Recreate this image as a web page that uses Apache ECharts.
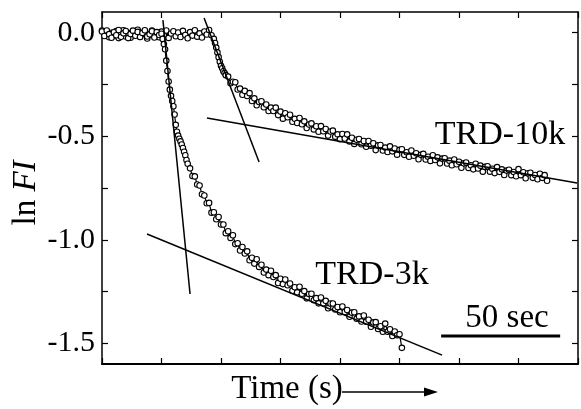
<!DOCTYPE html>
<html>
<head>
<meta charset="utf-8">
<script src="https://cdn.jsdelivr.net/npm/echarts@6/dist/echarts.min.js"></script>
<style>html,body{margin:0;padding:0;background:#fff}#c{width:581px;height:409px}</style>
</head>
<body>
<div id="c"></div>
<script>
// ---- data (time in s, value = ln FI) ----
const t10k = [0,1,2,3,4,5,6,7,8,9,10,11,12,13,14,15,16,17,18,19,20,21,22,23,24,25,26,27,28,29,30,31,32,33,34,35,36,37,38,39,40,41,42,43,44,45,46,
  47,47.5,48,48.5,49,49.5,50,50.5,51,51.5,52,
  53,54,55,56,57,58,59,60,61,62,63,64,65,66,67,68,69,70,71,72,73,74,75,76,77,78,79,80,81,82,83,84,85,86,87,88,89,90,
  91,92,93,94,95,96,97,98,99,100,101,102,103,104,105,106,107,108,109,110,111,112,113,114,115,116,117,118,119,120,
  121,122,123,124,125,126,127,128,129,130,131,132,133,134,135,136,137,138,139,140,141,142,143,144,145,146,147,148,149,150,
  151,152,153,154,155,156,157,158,159,160,161,162,163,164,165,166,167,168,169,170,171,172,173,174,175,176,177,178,179,180,
  181,182,183,184,185,186,187];
const v10k = [0.010,-0.012,0.004,-0.022,0.000,-0.015,0.008,-0.026,-0.004,0.012,
  -0.018,-0.002,-0.024,0.006,-0.010,0.014,-0.020,-0.006,0.002,-0.028,
  -0.008,0.010,-0.016,-0.001,-0.022,0.005,-0.013,0.011,-0.025,-0.004,
  0.007,-0.017,0.001,-0.021,0.009,-0.011,-0.027,0.003,-0.014,0.012,
  -0.019,-0.003,-0.023,0.006,-0.009,0.013,-0.012,
  -0.030,-0.050,-0.072,-0.095,-0.118,-0.140,-0.160,-0.172,-0.186,-0.195,-0.205,
  -0.212,-0.244,-0.237,-0.239,-0.274,-0.270,-0.300,-0.281,-0.306,-0.292,-0.330,-0.317,-0.350,-0.335,-0.331,-0.360,-0.347,-0.378,
  -0.362,-0.378,-0.362,-0.398,-0.381,-0.415,-0.389,-0.408,-0.396,-0.430,-0.416,-0.436,-0.412,-0.442,-0.428,-0.460,-0.443,-0.438,-0.467,-0.452,
  -0.478,-0.451,-0.476,-0.465,-0.497,-0.477,-0.473,-0.502,-0.491,-0.514,-0.489,-0.511,-0.491,-0.525,-0.507,-0.537,-0.517,-0.513,-0.539,-0.523,
  -0.551,-0.523,-0.546,-0.534,-0.567,-0.544,-0.542,-0.569,-0.555,-0.576,
  -0.549,-0.573,-0.559,-0.589,-0.566,-0.563,-0.590,-0.577,-0.599,-0.569,-0.594,-0.582,-0.611,-0.590,-0.585,-0.612,-0.599,-0.619,-0.592,-0.615,
  -0.602,-0.631,-0.608,-0.606,-0.632,-0.618,-0.640,-0.612,-0.635,-0.623,
  -0.652,-0.631,-0.627,-0.653,-0.640,-0.660,-0.633,-0.656,-0.642,-0.671,-0.648,-0.645,-0.671,-0.657,-0.678,-0.649,-0.672,-0.660,-0.687,-0.666,
  -0.662,-0.688,-0.673,-0.693,-0.659,-0.688,-0.674,-0.703,-0.679,-0.676,
  -0.701,-0.687,-0.708,-0.681,-0.701,-0.688,-0.715];

const t3k = [0,1,2,3,4,5,6,7,8,9,10,11,12,13,14,15,16,17,18,19,20,21,22,23,24,25,
  25.5,26,26.5,27,27.5,28,28.5,29,29.5,30,30.5,31,31.5,32,32.5,33,33.5,34,34.5,35,35.5,36,
  37,38,39,40,41,42,43,44,45,46,47,48,49,50,51,52,53,54,55,56,57,58,59,60,61,62,63,64,65,66,67,68,69,70,
  71,72,73,74,75,76,77,78,79,80,81,82,83,84,85,86,87,88,89,90,91,92,93,94,95,96,97,98,99,100,
  101,102,103,104,105,106,107,108,109,110,111,112,113,114,115,116,117,118,119,120,121,122,123,124,125,126];
const v3k = [0.006,-0.016,0.011,-0.007,-0.024,0.002,-0.012,0.013,-0.020,-0.003,
  0.008,-0.026,-0.006,0.010,-0.015,0.004,-0.021,-0.001,0.012,-0.018,
  -0.008,0.007,-0.023,0.003,-0.011,-0.005,
  -0.030,-0.055,-0.080,-0.135,-0.185,-0.236,-0.275,-0.305,-0.330,-0.355,-0.395,-0.445,-0.478,-0.497,-0.512,-0.525,-0.540,-0.557,-0.575,-0.592,-0.615,-0.633,
  -0.655,-0.692,-0.694,-0.733,-0.738,-0.780,-0.786,-0.824,-0.822,-0.869,-0.867,-0.901,-0.890,-0.926,-0.926,-0.968,-0.959,-0.991,-0.978,-1.021,
  -1.017,-1.052,-1.035,-1.066,-1.056,-1.099,-1.087,-1.115,-1.094,-1.131,-1.121,-1.158,-1.144,-1.171,
  -1.150,-1.180,-1.171,-1.209,-1.188,-1.214,-1.192,-1.220,-1.211,-1.246,-1.229,-1.254,-1.227,-1.261,-1.248,-1.283,-1.262,-1.261,-1.292,-1.282,
  -1.307,-1.279,-1.307,-1.295,-1.331,-1.308,-1.308,-1.337,-1.325,-1.350,
  -1.322,-1.349,-1.339,-1.372,-1.352,-1.350,-1.381,-1.370,-1.395,-1.366,-1.396,-1.386,-1.420,-1.399,-1.398,-1.431,-1.418,-1.444,-1.405,-1.444,
  -1.432,-1.465,-1.443,-1.461,-1.456,-1.522];

// tangent (asymptote) lines: [t, value] end points
const steep10k = [[42.9, 0.071], [66.0, -0.624]];
const slow10k  = [[44.1, -0.412], [199.6, -0.726]];
const steep3k  = [[25.6, 0.061], [37.0, -1.262]];
const slow3k   = [[18.9, -0.972], [142.9, -1.557]];
// 50 s scale bar
const scaleBar = [[142.5, -1.465], [192.5, -1.465]];

const yTickLabels = [0, -0.5, -1.0, -1.5];
const yMinorTicks = [0, -0.25, -0.5, -0.75, -1.0, -1.25, -1.5];
const xMin = 0, xMax = 200, xStep = 25;
const yMin = -1.6, yMax = 0.1;

const zip = (a, b) => a.map((x, i) => [x, b[i]]);
const FONT = '"Liberation Serif","Times New Roman",serif';

const chart = echarts.init(document.getElementById('c'), null, {renderer: 'canvas'});

const dataStyle = {
  type: 'line', symbol: 'circle', symbolSize: 5.5, showAllSymbol: true,
  itemStyle: {color: '#fff', borderColor: '#000', borderWidth: 1.1},
  lineStyle: {color: '#000', width: 1.2},
  emphasis: {disabled: true}, z: 3
};
const fitStyle = {
  type: 'line', symbol: 'none',
  lineStyle: {color: '#000', width: 1.5},
  emphasis: {disabled: true}, z: 4
};

const tickStyle = {inside: true, length: 6, lineStyle: {color: '#000', width: 1.2}};
const lineStyleAxis = w => ({show: true, onZero: false, lineStyle: {color: '#000', width: w}});

chart.setOption({
  animation: false,
  backgroundColor: '#fff',
  grid: {left: 102, top: 12, width: 476, height: 352, containLabel: false, outerBoundsMode: 'none'},
  xAxis: [
    {type: 'value', position: 'bottom', min: xMin, max: xMax, interval: xStep,
      axisLine: lineStyleAxis(2), axisTick: tickStyle, axisLabel: {show: false}, splitLine: {show: false}},
    {type: 'value', position: 'top', min: xMin, max: xMax, interval: xStep,
      axisLine: lineStyleAxis(1.5), axisTick: tickStyle, axisLabel: {show: false}, splitLine: {show: false}}
  ],
  yAxis: [
    {type: 'value', position: 'left', min: yMin, max: yMax,
      axisLine: lineStyleAxis(1.5),
      axisTick: Object.assign({customValues: yMinorTicks}, tickStyle),
      axisLabel: {show: true, customValues: yTickLabels, margin: 7, color: '#000',
        fontFamily: FONT, fontSize: 30,
        formatter: v => (Math.abs(v) < 1e-9 ? 0 : v).toFixed(1)},
      splitLine: {show: false}},
    {type: 'value', position: 'right', min: yMin, max: yMax,
      axisLine: lineStyleAxis(1.5),
      axisTick: Object.assign({customValues: yMinorTicks}, tickStyle),
      axisLabel: {show: false}, splitLine: {show: false}}
  ],
  series: [
    Object.assign({name: 'TRD-10k', data: zip(t10k, v10k)}, dataStyle),
    Object.assign({name: 'TRD-3k', data: zip(t3k, v3k)}, dataStyle),
    Object.assign({name: 'steep10k', data: steep10k}, fitStyle),
    Object.assign({name: 'slow10k', data: slow10k}, fitStyle),
    Object.assign({name: 'steep3k', data: steep3k}, fitStyle),
    Object.assign({name: 'slow3k', data: slow3k}, fitStyle),
    Object.assign({name: 'scale', data: scaleBar}, fitStyle, {lineStyle: {color: '#000', width: 3}})
  ],
  graphic: [
    {type: 'text', x: 500, y: 135, style: {text: 'TRD-10k', fontFamily: FONT, fontSize: 34, fill: '#000', align: 'center', verticalAlign: 'middle'}},
    {type: 'text', x: 372, y: 275, style: {text: 'TRD-3k', fontFamily: FONT, fontSize: 34, fill: '#000', align: 'center', verticalAlign: 'middle'}},
    {type: 'text', x: 507, y: 318, style: {text: '50 sec', fontFamily: FONT, fontSize: 33, fill: '#000', align: 'center', verticalAlign: 'middle'}},
    {type: 'text', x: 287, y: 389, style: {text: 'Time (s)', fontFamily: FONT, fontSize: 33, fill: '#000', align: 'center', verticalAlign: 'middle'}},
    {type: 'line', shape: {x1: 342, y1: 392, x2: 430, y2: 392}, style: {stroke: '#000', lineWidth: 1.5}},
    {type: 'polygon', shape: {points: [[438, 392], [424, 387.5], [424, 396.5]]}, style: {fill: '#000'}},
    {type: 'text', x: 26, y: 193, rotation: Math.PI / 2,
      style: {text: '{a|ln }{b|FI}', fill: '#000', align: 'center', verticalAlign: 'middle',
        rich: {a: {fontFamily: FONT, fontSize: 33, fill: '#000'},
               b: {fontFamily: FONT, fontSize: 33, fontStyle: 'italic', fill: '#000'}}}}
  ]
});
</script>
</body>
</html>
